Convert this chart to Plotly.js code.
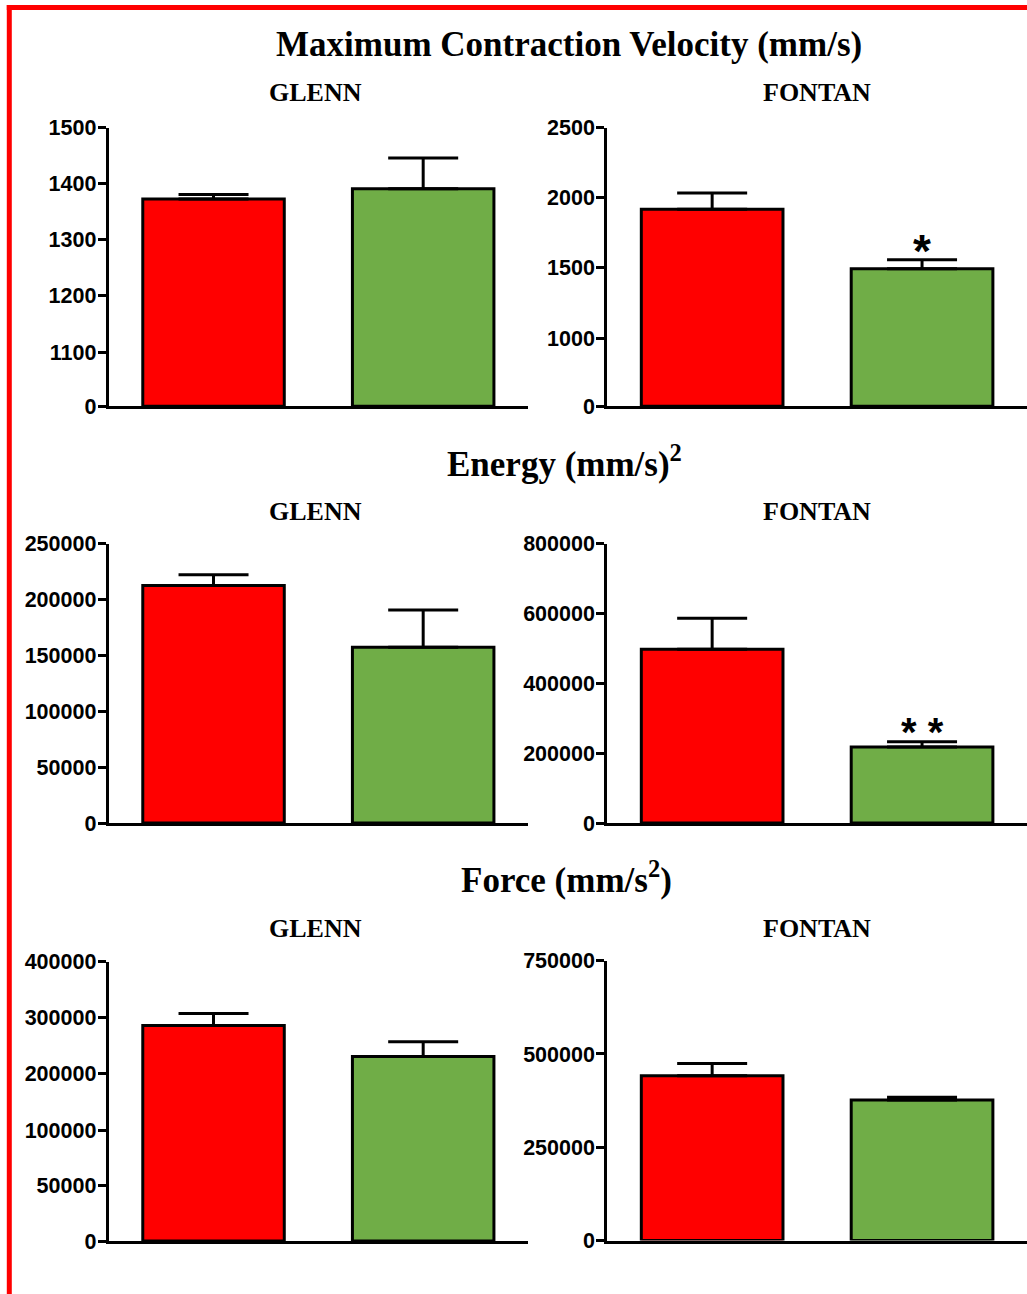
<!DOCTYPE html>
<html>
<head>
<meta charset="utf-8">
<script src="https://cdn.plot.ly/plotly-3.0.1.min.js"></script>
<style>html,body{margin:0;padding:0;background:#ffffff;}</style>
</head>
<body>
<div id="chart" style="width:1027px;height:1294px;"></div>
<script>
// ---------------- DATA ----------------
const groups = ['Group 1', 'Group 2'];
const barColors = ['#FF0000', '#70AD47'];

const velocityGlenn = [1373, 1391];
const velocityGlennErr = [8, 55];
const velocityFontan = [1918, 1494];
const velocityFontanErr = [117, 65];

const energyGlenn = [212600, 157300];
const energyGlennErr = [9500, 33300];
const energyFontan = [497800, 217500];
const energyFontanErr = [88400, 15100];

const forceGlenn = [286100, 231000];
const forceGlennErr = [21400, 26100];
const forceFontan = [441400, 376300];
const forceFontanErr = [32900, 8000];

const sectionTitles = ['Maximum Contraction Velocity (mm/s)', 'Energy (mm/s)<sup>2</sup>', 'Force (mm/s<sup>2</sup>)'];
const panelTitles = ['GLENN', 'FONTAN'];

// tick values (broken axes are split into lower / upper segments)
const velGlennLowerTicks = [0];
const velGlennUpperTicks = [1100, 1200, 1300, 1400, 1500];
const velFontanLowerTicks = [0];
const velFontanUpperTicks = [1000, 1500, 2000, 2500];
const energyGlennTicks = [0, 50000, 100000, 150000, 200000, 250000];
const energyFontanTicks = [0, 200000, 400000, 600000, 800000];
const forceGlennLowerTicks = [0, 50000];
const forceGlennUpperTicks = [100000, 200000, 300000, 400000];
const forceFontanTicks = [0, 250000, 500000, 750000];

const velFontanMark = '*';
const energyFontanMark = '* *';

// ---------------- LAYOUT ----------------
const W = 1027, H = 1294;
const fx = p => p / W;
const fy = p => 1 - p / H;

const LEFT_X = [108.7, 528];
const RIGHT_X = [607.2, 1027];

const panels = [
  {vals: velocityGlenn, errs: velocityGlennErr, xpx: LEFT_X, bottom: 406.3, top: 127.7,
   segs: [{range: [0, 1100], ticks: velGlennLowerTicks, top: 352}, {range: [1100, 1500], ticks: velGlennUpperTicks}]},
  {vals: velocityFontan, errs: velocityFontanErr, xpx: RIGHT_X, bottom: 406.3, top: 127.7,
   mark: velFontanMark, markSize: 46, markShift: -19,
   segs: [{range: [0, 1000], ticks: velFontanLowerTicks, top: 338}, {range: [1000, 2500], ticks: velFontanUpperTicks}]},
  {vals: energyGlenn, errs: energyGlennErr, xpx: LEFT_X, bottom: 823.0, top: 543.7,
   segs: [{range: [0, 250000], ticks: energyGlennTicks}]},
  {vals: energyFontan, errs: energyFontanErr, xpx: RIGHT_X, bottom: 823.0, top: 543.7,
   mark: energyFontanMark, markSize: 40, markShift: -14,
   segs: [{range: [0, 800000], ticks: energyFontanTicks}]},
  {vals: forceGlenn, errs: forceGlennErr, xpx: LEFT_X, bottom: 1241.0, top: 961.7,
   segs: [{range: [0, 100000], ticks: forceGlennLowerTicks, top: 1130}, {range: [100000, 400000], ticks: forceGlennUpperTicks}]},
  {vals: forceFontan, errs: forceFontanErr, xpx: RIGHT_X, bottom: 1240.5, top: 960.7,
   segs: [{range: [0, 750000], ticks: forceFontanTicks}]}
];

const tickFont = {family: 'Arial, "Liberation Sans", sans-serif', size: 21.5, color: '#000000', weight: 'bold'};
const serifBold = {family: '"Times New Roman", "Liberation Serif", serif', color: '#000000', weight: 'bold'};

const layout = {
  width: W, height: H,
  margin: {l: 0, r: 0, t: 0, b: 0},
  paper_bgcolor: '#ffffff',
  plot_bgcolor: 'rgba(0,0,0,0)',
  showlegend: false,
  annotations: [],
  shapes: []
};
const traces = [];

let yCount = 0;
panels.forEach((p, i) => {
  const xn = i + 1;
  const xKey = 'xaxis' + (xn === 1 ? '' : xn);
  const xRef = 'x' + (xn === 1 ? '' : xn);
  const yRefs = [];
  let lower = p.bottom;
  p.segs.forEach((s, k) => {
    yCount += 1;
    const yKey = 'yaxis' + (yCount === 1 ? '' : yCount);
    const yRef = 'y' + (yCount === 1 ? '' : yCount);
    yRefs.push(yRef);
    const segTop = (k === p.segs.length - 1) ? p.top : s.top;
    layout[yKey] = {
      domain: [fy(lower), fy(segTop)],
      range: s.range,
      anchor: xRef,
      showline: true, linewidth: 3, linecolor: '#000000',
      ticks: 'outside', ticklen: 8, tickwidth: 3, tickcolor: '#000000',
      ticklabelstandoff: -3,
      tickmode: 'array', tickvals: s.ticks, tickformat: 'd',
      tickfont: tickFont,
      showgrid: false, zeroline: false, fixedrange: true
    };
    const isTop = k === p.segs.length - 1;
    traces.push({
      type: 'bar', x: groups, y: p.vals, xaxis: xRef, yaxis: yRef,
      width: 0.675,
      marker: {color: barColors, line: {color: '#000000', width: 3}},
      error_y: isTop ? {type: 'data', symmetric: false, array: p.errs, arrayminus: p.errs.map(() => 0),
                        color: '#000000', thickness: 3, width: 35} : {visible: false},
      hoverinfo: 'y'
    });
    lower = segTop;
  });
  layout[xKey] = {
    domain: [fx(p.xpx[0]), fx(p.xpx[1])],
    range: [-0.5, 1.5],
    type: 'category',
    anchor: yRefs[0],
    showline: true, linewidth: 3, linecolor: '#000000',
    ticks: '', showticklabels: false,
    showgrid: false, zeroline: false, fixedrange: true
  };
  if (p.mark) {
    layout.annotations.push({
      xref: xRef, yref: yRefs[yRefs.length - 1],
      x: groups[1], y: p.vals[1] + p.errs[1],
      text: p.mark, showarrow: false, xanchor: 'center', yanchor: 'bottom', yshift: p.markShift,
      font: {family: 'Arial, "Liberation Sans", sans-serif', size: p.markSize, color: '#000000', weight: 'bold'}
    });
  }
});

// section titles
const sectionY = [44.3, 461, 877];
const sectionX = [568.5, 564, 566];
sectionTitles.forEach((t, r) => {
  layout.annotations.push({
    xref: 'paper', yref: 'paper', x: fx(sectionX[r]), y: fy(sectionY[r]),
    text: t, showarrow: false, xanchor: 'center', yanchor: 'middle',
    font: Object.assign({size: 35}, serifBold)
  });
});
// panel titles
const panelTitleY = [92.5, 511, 928.5];
const panelTitleX = [315, 817];
panelTitleY.forEach(y => {
  panelTitles.forEach((t, c) => {
    layout.annotations.push({
      xref: 'paper', yref: 'paper', x: fx(panelTitleX[c]), y: fy(y),
      text: t, showarrow: false, xanchor: 'center', yanchor: 'middle',
      font: Object.assign({size: 26}, serifBold)
    });
  });
});

// red frame
layout.shapes.push({type: 'line', xref: 'paper', yref: 'paper', x0: fx(9.3), x1: fx(9.3), y0: fy(5), y1: -0.02,
  line: {color: '#FF0000', width: 5}});
layout.shapes.push({type: 'line', xref: 'paper', yref: 'paper', x0: fx(6.8), x1: 1.02, y0: fy(7.6), y1: fy(7.6),
  line: {color: '#FF0000', width: 5}});

Plotly.newPlot('chart', traces, layout, {displayModeBar: false, staticPlot: true});
</script>
</body>
</html>
